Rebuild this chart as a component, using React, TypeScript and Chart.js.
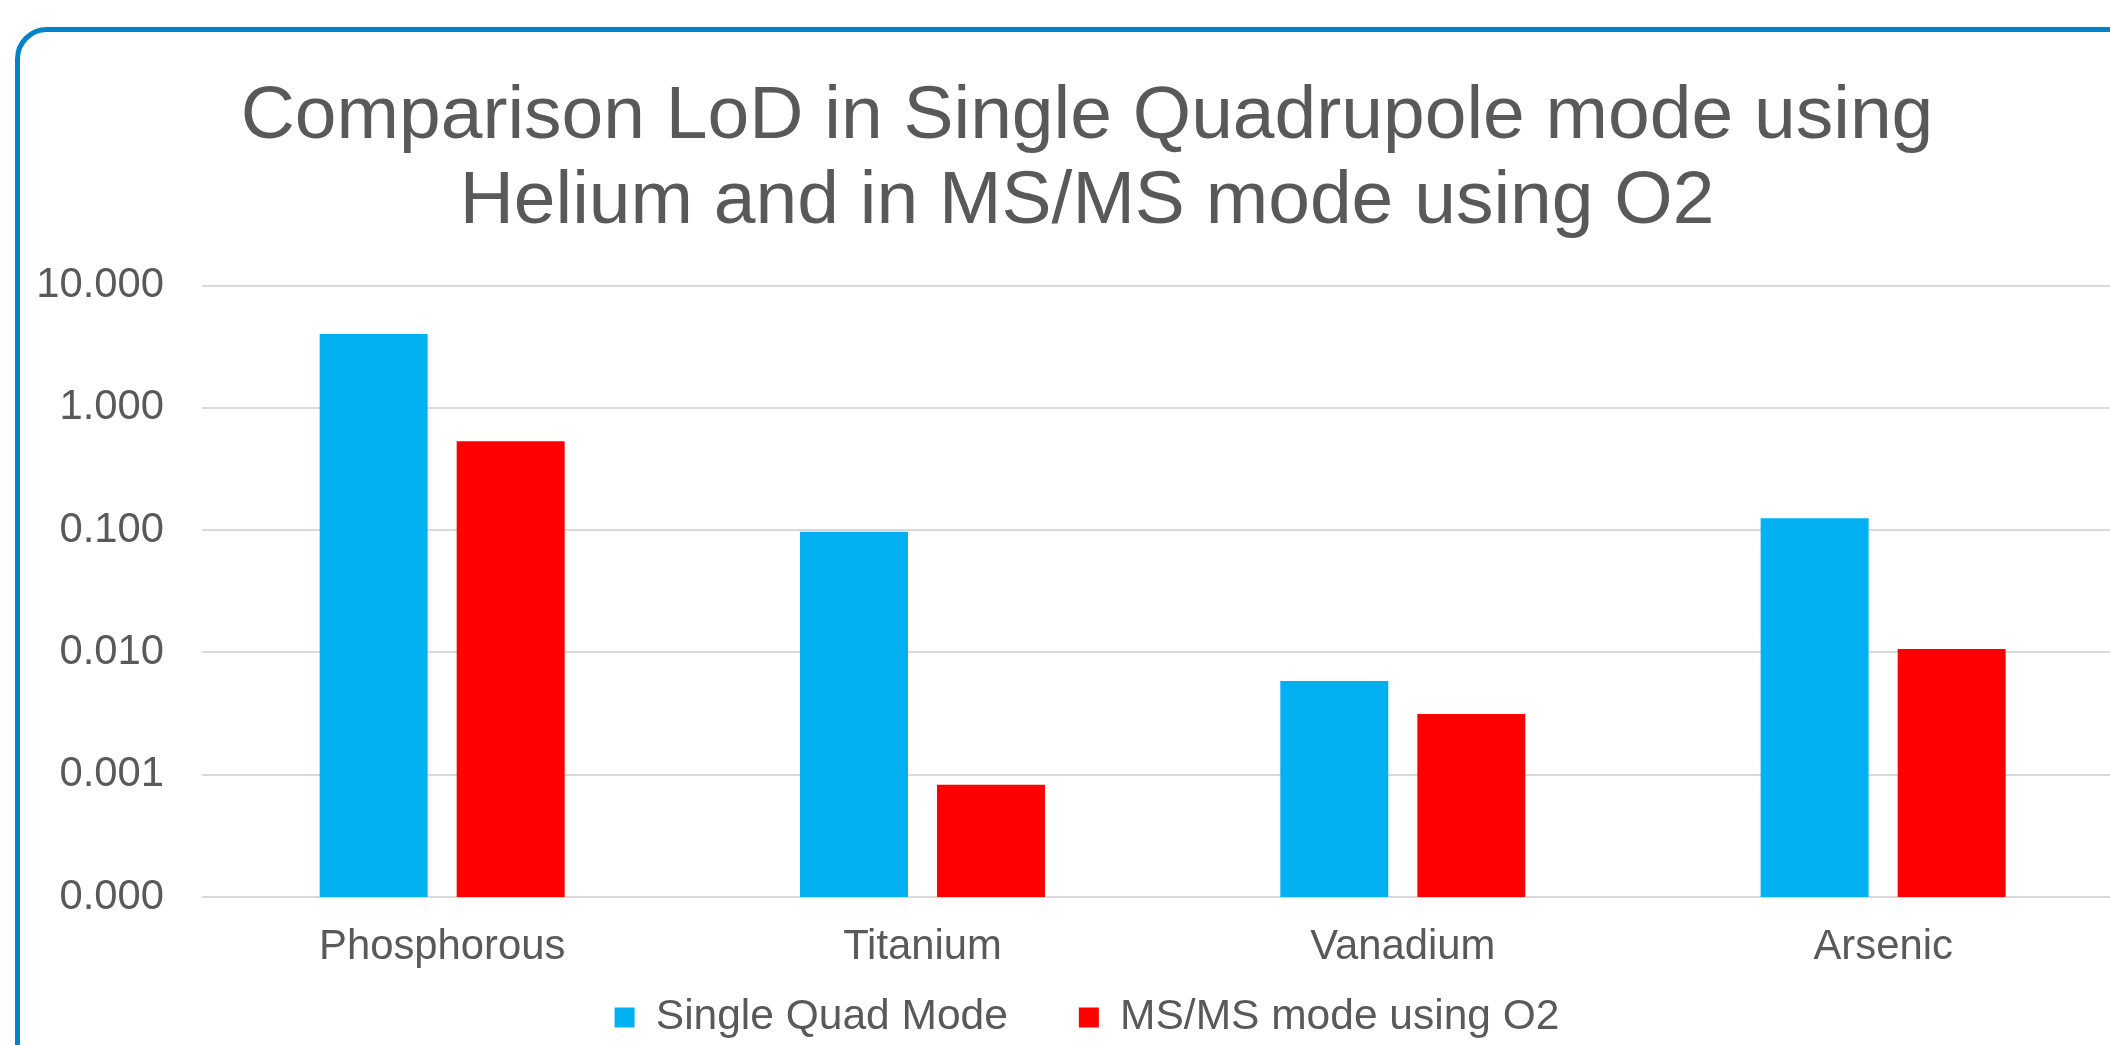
import React, { useEffect, useRef } from "react";
import { Chart, registerables } from "chart.js";

Chart.register(...registerables);

const titleLines = ["Comparison LoD in Single Quadrupole mode using", "Helium and in MS/MS mode using O2"];
const categories = ["Phosphorous", "Titanium", "Vanadium", "Arsenic"];
const singleQuadLabel = "Single Quad Mode";
const msmsLabel = "MS/MS mode using O2";
const singleQuadValues = [4.03, 0.0973, 0.00585, 0.125];
const msmsValues = [0.533, 0.00083, 0.00314, 0.0107];
const yTickValues = [0.0001, 0.001, 0.01, 0.1, 1, 10];
const yTickLabels = ["0.000", "0.001", "0.010", "0.100", "1.000", "10.000"];

const FONT = "'Liberation Sans', Arial, Helvetica, sans-serif";
const TEXT = "#595959";
const AXIS_FONT = 41.8;

export default function App() {
  const ref = useRef<HTMLCanvasElement | null>(null);

  useEffect(() => {
    if (!ref.current) return;
    const chart = new Chart(ref.current, {
      type: "bar",
      data: {
        labels: categories,
        datasets: [
          {
            label: singleQuadLabel,
            data: singleQuadValues,
            backgroundColor: "#00B0F0",
            borderWidth: 0,
            categoryPercentage: 0.5705,
            barPercentage: 0.788,
          },
          {
            label: msmsLabel,
            data: msmsValues,
            backgroundColor: "#FF0000",
            borderWidth: 0,
            categoryPercentage: 0.5705,
            barPercentage: 0.788,
          },
        ],
      },
      options: {
        responsive: false,
        animation: false,
        devicePixelRatio: 1,
        layout: { padding: { left: 30.7, right: 30.7, top: 0, bottom: 21.25 } },
        plugins: {
          tooltip: { enabled: false },
          title: {
            display: true,
            text: titleLines,
            color: TEXT,
            font: { family: FONT, size: 75, weight: "normal", lineHeight: 85 / 75 },
            padding: { top: 42.8, bottom: 40.9 },
          },
          legend: {
            position: "bottom",
            labels: {
              color: TEXT,
              font: { family: FONT, size: 42.5 },
              boxWidth: 20,
              boxHeight: 20,
              padding: 71,
            },
          },
        },
        scales: {
          x: {
            grid: { display: false, drawTicks: false },
            border: { display: false },
            ticks: {
              color: TEXT,
              font: { family: FONT, size: AXIS_FONT },
              padding: 25.4,
              maxRotation: 0,
            },
            afterFit: (scale: any) => {
              scale.height = 28.25;
              scale._computeLabelArea = () => undefined;
            },
          },
          y: {
            type: "logarithmic",
            min: yTickValues[0],
            max: yTickValues[yTickValues.length - 1],
            grid: { color: "#D9D9D9", lineWidth: 2, drawTicks: false },
            border: { display: false },
            afterBuildTicks: (scale: any) => {
              scale.ticks = yTickValues.map((v) => ({ value: v }));
            },
            ticks: {
              color: TEXT,
              font: { family: FONT, size: AXIS_FONT },
              padding: 38,
              autoSkip: false,
              callback: (value: any) => {
                const i = yTickValues.indexOf(Number(value));
                return i >= 0 ? yTickLabels[i] : "";
              },
            },
            afterFit: (scale: any) => {
              scale.width = 151.3;
              scale._computeLabelArea = () => undefined;
            },
          },
        },
      },
    });
    return () => chart.destroy();
  }, []);

  return (
    <div
      style={{
        position: "fixed",
        left: 0,
        top: 0,
        width: "100vw",
        height: "100vh",
        overflow: "hidden",
        background: "#ffffff",
      }}
    >
      <div
        style={{
          position: "absolute",
          left: 15,
          top: 27,
          width: 2144,
          height: 1048,
          border: "5px solid #0083C6",
          borderRadius: 32,
          boxSizing: "border-box",
          background: "#ffffff",
        }}
      >
        <canvas ref={ref} width={2134} height={1038} style={{ display: "block" }} />
      </div>
    </div>
  );
}
